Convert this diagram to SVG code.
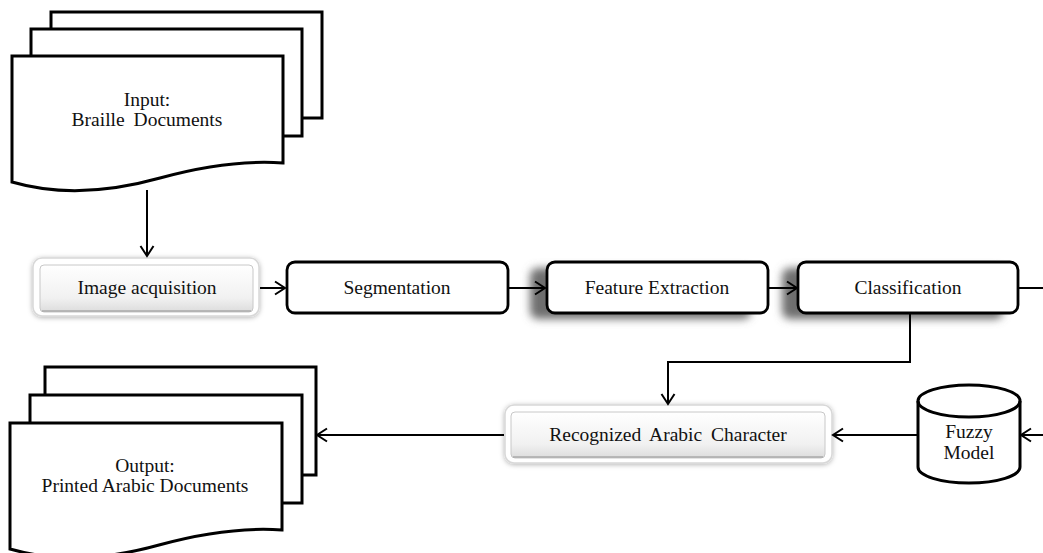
<svg xmlns="http://www.w3.org/2000/svg" width="1043" height="553" viewBox="0 0 1043 553">
<style>
text{font-family:"Liberation Serif","Times New Roman",serif;font-size:19.5px;fill:#111;text-anchor:middle}
.doc{fill:#fff;stroke:#000;stroke-width:3;stroke-linejoin:miter}
.box{fill:#fff;stroke:#000;stroke-width:2.8}
.con{fill:none;stroke:#000;stroke-width:2}
.glowOuter{fill:#fff;stroke:#d8d8d8;stroke-width:1.5}
.glowInner{fill:url(#gInner);stroke:#c8c8c8;stroke-width:1}
.shadow{fill:#6e6e6e}
</style>
<defs>
<marker id="arr" markerUnits="userSpaceOnUse" markerWidth="14" markerHeight="16" refX="11" refY="8" orient="auto">
<path d="M1,1.5 L11,8 L1,14.5" fill="none" stroke="#000" stroke-width="2"/>
</marker>
<linearGradient id="gInner" x1="0" y1="0" x2="0" y2="1">
<stop offset="0" stop-color="#ffffff"/>
<stop offset="0.7" stop-color="#f1f1f1"/>
<stop offset="1" stop-color="#dcdcdc"/>
</linearGradient>
<filter id="blur" x="-20%" y="-40%" width="140%" height="180%">
<feGaussianBlur stdDeviation="4"/>
</filter>
<filter id="soft" x="-10%" y="-30%" width="120%" height="160%">
<feDropShadow dx="0" dy="1" stdDeviation="2.5" flood-color="#000" flood-opacity="0.3"/>
</filter>
</defs>

<g id="input-docs">
<rect class="doc" x="51" y="12" width="271" height="106"/>
<rect class="doc" x="31" y="29" width="271" height="107"/>
<path class="doc" d="M12,56 H283 V163 C240,160 200,167 160,178 C110,192 60,196 12,182 Z"/>
<text x="147" y="106">Input:</text>
<text x="147" y="126" word-spacing="4">Braille Documents</text>
</g>

<g id="image-acquisition">
<rect class="glowOuter" x="33" y="258" width="226" height="58" rx="9" filter="url(#soft)"/>
<rect class="glowInner" x="40" y="265" width="213" height="47" rx="4"/>
<line x1="42" y1="311" x2="251" y2="311" stroke="#aaa" stroke-width="1.5"/>
<text x="147" y="294">Image acquisition</text>
</g>

<g id="segmentation">
<rect class="box" x="287" y="262" width="221" height="51" rx="8"/>
<text x="397" y="294">Segmentation</text>
</g>

<g id="feature-extraction">
<rect class="shadow" x="530" y="268" width="221" height="51" rx="8" filter="url(#blur)"/>
<rect class="box" x="547" y="262" width="221" height="51" rx="8"/>
<text x="657" y="294">Feature Extraction</text>
</g>

<g id="classification">
<rect class="shadow" x="782" y="268" width="221" height="51" rx="8" filter="url(#blur)"/>
<rect class="box" x="798" y="262" width="220" height="51" rx="8"/>
<text x="908" y="294">Classification</text>
</g>

<g id="recognized">
<rect class="glowOuter" x="505" y="405" width="327" height="58" rx="9" filter="url(#soft)"/>
<rect class="glowInner" x="511" y="412" width="314" height="46" rx="4"/>
<line x1="513" y1="457" x2="823" y2="457" stroke="#aaa" stroke-width="1.5"/>
<text x="668" y="441" word-spacing="4">Recognized Arabic Character</text>
</g>

<g id="fuzzy-model">
<path d="M918,401 A51,16 0 0,1 1020,401 V467 A51,16 0 0,1 918,467 Z" fill="#fff" stroke="#000" stroke-width="3"/>
<path d="M918,401 A51,16 0 0,0 1020,401" fill="none" stroke="#000" stroke-width="3"/>
<text x="969" y="438">Fuzzy</text>
<text x="969" y="459">Model</text>
</g>

<g id="output-docs">
<rect class="doc" x="45" y="367" width="271" height="108"/>
<rect class="doc" x="30" y="395" width="272" height="108"/>
<path class="doc" d="M10,423 H282 V530 C239,527 199,534 159,545 C109,559 59,563 10,549 Z"/>
<text x="145" y="472">Output:</text>
<text x="145" y="492">Printed Arabic Documents</text>
</g>

<g id="connectors">
<path class="con" d="M147,190 V256" marker-end="url(#arr)"/>
<path class="con" d="M260,288 H285" marker-end="url(#arr)"/>
<path class="con" d="M509,288 H545" marker-end="url(#arr)"/>
<path class="con" d="M769,288 H797" marker-end="url(#arr)"/>
<path class="con" d="M1019,288 H1043"/>
<path class="con" d="M910,314 V362 H668 V404" marker-end="url(#arr)"/>
<path class="con" d="M917,435 H833" marker-end="url(#arr)"/>
<path class="con" d="M1043,435 H1021" marker-end="url(#arr)"/>
<path class="con" d="M504,435 H317" marker-end="url(#arr)"/>
</g>
</svg>
